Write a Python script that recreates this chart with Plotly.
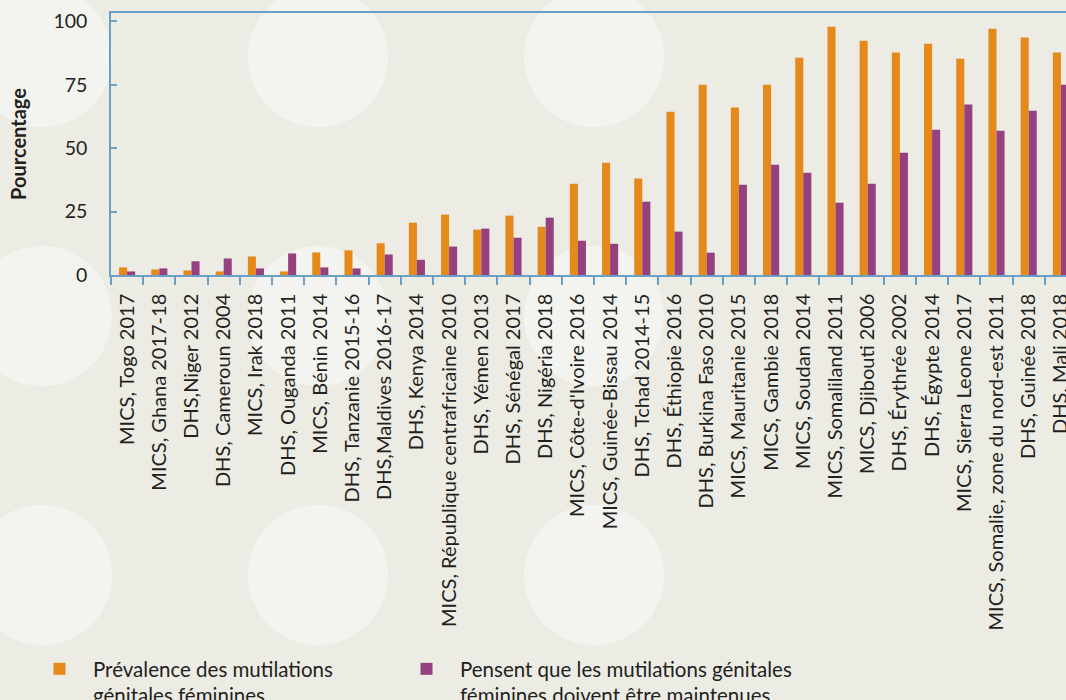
import plotly.graph_objects as go

categories = [
    "MICS, Togo 2017", "MICS, Ghana 2017-18", "DHS,Niger 2012", "DHS, Cameroun 2004",
    "MICS, Irak 2018", "DHS, Ouganda 2011", "MICS, Bénin 2014", "DHS, Tanzanie 2015-16",
    "DHS,Maldives 2016-17", "DHS, Kenya 2014", "MICS, République centrafricaine 2010",
    "DHS, Yémen 2013", "DHS, Sénégal 2017", "DHS, Nigéria 2018", "MICS, Côte-d'Ivoire 2016",
    "MICS, Guinée-Bissau 2014", "DHS, Tchad 2014-15", "DHS, Éthiopie 2016",
    "DHS, Burkina Faso 2010", "MICS, Mauritanie 2015", "MICS, Gambie 2018",
    "MICS, Soudan 2014", "MICS, Somaliland 2011", "MICS, Djibouti 2006",
    "DHS, Érythrée 2002", "DHS, Égypte 2014", "MICS, Sierra Leone 2017",
    "MICS, Somalie, zone du nord-est 2011", "DHS, Guinée 2018", "DHS, Mali 2018",
]
prevalence = [3.0, 2.2, 1.8, 1.4, 7.3, 1.4, 8.9, 9.7, 12.5, 20.6, 23.8, 17.9, 23.4, 19.0, 36.0,
              44.3, 38.0, 64.4, 75.0, 66.0, 75.0, 85.7, 97.9, 92.4, 87.7, 91.2, 85.3, 97.1, 93.6, 87.7]
maintain = [1.4, 2.6, 5.4, 6.5, 2.6, 8.5, 3.0, 2.6, 8.1, 6.0, 11.2, 18.3, 14.7, 22.6, 13.5,
            12.3, 28.9, 17.1, 8.8, 35.6, 43.5, 40.3, 28.5, 36.0, 48.2, 57.3, 67.2, 56.9, 64.8, 75.0]
series_names = ["Prévalence des mutilations<br>génitales féminines",
                "Pensent que les mutilations génitales<br>féminines doivent être maintenues"]
y_ticks = [0, 25, 50, 75, 100]

ORANGE = "#E5891A"
PURPLE = "#95417F"
BG = "#ECEBE4"
CIRCLE = "#F3F4EF"
AXIS = "#6A9FC6"
TEXT = "#231F20"
FONT = "Lato"

W, H = 1066, 700
L, R, T, B = 111, 0, 13, 425
PW, PH = W - L - R, H - T - B

fig = go.Figure()
fig.add_trace(go.Bar(x=categories, y=prevalence, name=series_names[0], legend="legend",
                     marker=dict(color=ORANGE, line=dict(width=0))))
fig.add_trace(go.Bar(x=categories, y=maintain, name=series_names[1], legend="legend2",
                     marker=dict(color=PURPLE, line=dict(width=0))))

# decorative background circles (pixel positions -> paper)
def px2paper_x(px):
    return (px - L) / PW

def px2paper_y(py):
    return (H - B - py) / PH

shapes = []
for cy in (57, 316, 575):
    for cx in (42, 318, 594):
        r = 70
        shapes.append(dict(type="circle", xref="paper", yref="paper", layer="below",
                           x0=px2paper_x(cx - r), x1=px2paper_x(cx + r),
                           y0=px2paper_y(cy + r), y1=px2paper_y(cy - r),
                           fillcolor=CIRCLE, line=dict(width=0)))

legend_common = dict(orientation="h", xanchor="left", yanchor="top", valign="top",
                     font=dict(family=FONT, size=20.5, color=TEXT),
                     itemwidth=57, bgcolor="rgba(0,0,0,0)")

fig.update_layout(
    width=W, height=H,
    margin=dict(l=L, r=R, t=T, b=B, autoexpand=False),
    paper_bgcolor=BG, plot_bgcolor="rgba(0,0,0,0)",
    font=dict(family=FONT, size=19, color=TEXT),
    barmode="group", bargap=0.5, bargroupgap=0,
    shapes=shapes,
    showlegend=True,
    legend=dict(x=px2paper_x(26), y=px2paper_y(649), **legend_common),
    legend2=dict(x=px2paper_x(393), y=px2paper_y(649), **legend_common),
)
fig.update_xaxes(
    type="category", range=[-0.5, -0.5 + PW / 32.2], tickangle=-90,
    ticks="outside", tickson="boundaries", ticklen=8, tickcolor=AXIS, tickwidth=1.5,
    showline=True, mirror=True, linecolor=AXIS, linewidth=1.5,
    showgrid=False, zeroline=False, automargin=False,
    tickfont=dict(family=FONT, size=20, color=TEXT), ticklabelstandoff=9,
)
fig.update_yaxes(
    range=[0, 103.3], tickvals=y_ticks, ticks="inside", ticklen=6, tickcolor=AXIS, tickwidth=1.5,
    showline=True, linecolor=AXIS, linewidth=1.5, showgrid=False, zeroline=False,
    automargin=False, tickfont=dict(family=FONT, size=19.5, color=TEXT), ticklabelstandoff=18,
    title=dict(text="<b>Pourcentage</b>", font=dict(family=FONT, size=20, color=TEXT), standoff=21),
)

fig.write_html("out.html", config={"displayModeBar": False},
               post_script="document.body.style.margin='0';document.body.style.overflow='hidden';")
